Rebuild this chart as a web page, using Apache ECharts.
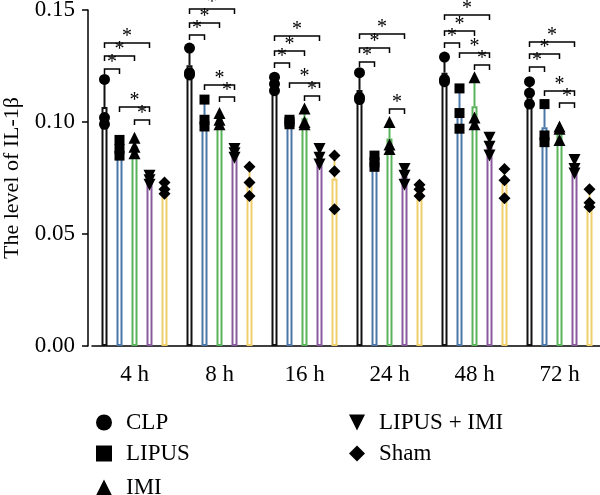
<!DOCTYPE html>
<html>
<head>
<meta charset="utf-8">
<script src="https://cdn.jsdelivr.net/npm/echarts@6/dist/echarts.min.js"></script>
<style>html,body{margin:0;padding:0;background:#fff;}#c{width:600px;height:495px;}</style>
</head>
<body>
<div id="c"></div>
<script>
// ---- data ----
var categories = ['4 h', '8 h', '16 h', '24 h', '48 h', '72 h'];
var groupNames = ['CLP', 'LIPUS', 'IMI', 'LIPUS + IMI', 'Sham'];
// individual points per time (3 animals each)
var clpPts = [[0.119,0.102,0.099],[0.133,0.122,0.121],[0.120,0.117,0.114],[0.122,0.111,0.110],[0.129,0.119,0.118],[0.118,0.113,0.108]];
var lipusPts = [[0.092,0.088,0.085],[0.110,0.101,0.098],[0.101,0.100,0.099],[0.085,0.082,0.080],[0.115,0.104,0.097],[0.108,0.094,0.091]];
var imiPts = [[0.093,0.089,0.086],[0.104,0.101,0.099],[0.106,0.100,0.099],[0.100,0.090,0.088],[0.120,0.102,0.099],[0.098,0.097,0.092]];
var lipusImiPts = [[0.076,0.074,0.072],[0.088,0.086,0.084],[0.088,0.084,0.081],[0.079,0.076,0.072],[0.093,0.089,0.085],[0.083,0.079,0.077]];
var shamPts = [[0.073,0.070,0.068],[0.080,0.073,0.067],[0.085,0.078,0.061],[0.072,0.070,0.067],[0.079,0.074,0.066],[0.070,0.064,0.062]];
// significance brackets: [category, level, fromGroup, toGroup]
var brackets = [
  [0,0.1237,0,1],[0,0.1295,0,2],[0,0.1353,0,3],[0,0.1067,1,3],[0,0.1009,2,3],
  [1,0.1388,0,1],[1,0.1442,0,2],[1,0.1504,0,3],[1,0.1165,1,3],[1,0.1112,2,3],
  [2,0.1263,0,1],[2,0.1317,0,2],[2,0.1384,0,3],[2,0.1174,1,3],[2,0.1116,2,3],
  [3,0.1268,0,1],[3,0.1330,0,2],[3,0.1393,0,3],[3,0.1058,2,3],
  [4,0.1353,0,1],[4,0.1406,0,2],[4,0.1478,0,3],[4,0.1308,1,3],[4,0.1254,2,3],
  [5,0.1246,0,1],[5,0.1304,0,2],[5,0.1357,0,3],[5,0.1138,1,3],[5,0.1085,2,3]
];

// ---- styling ----
var colors = ['#111111', '#4a77a8', '#58b35a', '#8a5a9e', '#f0cf6a'];
var symbols = ['circle', 'rect', 'triangle', 'path://M0,0L10,0L5,10Z', 'diamond'];
var symSizes = [11, 10, 12, 12, 12];
var FONT = 'Liberation Serif';
var BAR_W = 6, SPACING = 15;

var allPts = [clpPts, lipusPts, imiPts, lipusImiPts, shamPts];
function mean(a){ var s=0; a.forEach(function(v){s+=v;}); return s/a.length; }
function sd(a){ var m=mean(a), s=0; a.forEach(function(v){s+=(v-m)*(v-m);}); return Math.sqrt(s/(a.length-1)); }

var series = [];
allPts.forEach(function(pts, gi){
  series.push({
    name: groupNames[gi], type: 'bar', barWidth: BAR_W, barGap: '150%',
    data: pts.map(mean), z: 2,
    itemStyle: { color: '#fff', borderColor: colors[gi], borderWidth: 2 },
    emphasis: { disabled: true }, animation: false
  });
});
// error bars (mean -> mean + SD)
allPts.forEach(function(pts, gi){
  series.push({
    type: 'custom', z: 3, animation: false,
    data: pts.map(function(p, ci){ return [ci, mean(p), sd(p)]; }),
    renderItem: function(params, api){
      var c = api.value(0), m = api.value(1), s = api.value(2);
      var p1 = api.coord([c, m]), p2 = api.coord([c, m + s]);
      var dx = (gi - 2) * SPACING;
      return { type: 'line', shape: { x1: p1[0]+dx, y1: p1[1], x2: p2[0]+dx, y2: p2[1] },
               style: { stroke: colors[gi], lineWidth: 2 } };
    }
  });
});
// individual points
allPts.forEach(function(pts, gi){
  var d = [];
  pts.forEach(function(p, ci){ p.forEach(function(v){ d.push([ci, v]); }); });
  series.push({
    type: 'scatter', z: 4, animation: false, data: d,
    symbol: symbols[gi], symbolSize: symSizes[gi],
    symbolOffset: [(gi - 2) * SPACING, 0],
    itemStyle: { color: '#000', opacity: 1 },
    emphasis: { disabled: true }
  });
});
// significance brackets
series.push({
  type: 'custom', z: 5, animation: false, data: brackets,
  renderItem: function(params, api){
    var c = api.value(0), lv = api.value(1), f = api.value(2), t = api.value(3);
    var p = api.coord([c, lv]);
    var x1 = p[0] + (f - 2) * SPACING, x2 = p[0] + (t - 2) * SPACING, y = p[1];
    var st = { stroke: '#000', lineWidth: 1.5, fill: null };
    return { type: 'group', children: [
      { type: 'polyline', shape: { points: [[x1, y+5],[x1, y],[x2, y],[x2, y+5]] }, style: st },
      { type: 'text', style: { text: '*', x: (x1+x2)/2, y: y + 4, align: 'center', verticalAlign: 'bottom',
        font: '20px ' + FONT, fill: '#000' } }
    ]};
  }
});

// legend: one component per entry (two columns)
var legendPos = [[96, 411], [96, 442], [96, 476], [349, 411], [349, 442]];
var legends = groupNames.map(function(n, i){
  return {
    orient: 'vertical', left: legendPos[i][0], top: legendPos[i][1],
    itemWidth: 16, itemHeight: 16, selectedMode: false, padding: 0,
    textStyle: { color: '#000', fontFamily: FONT, fontSize: 23, lineHeight: 22, padding: [0, 0, 0, 9] },
    data: [{ name: n, icon: symbols[i], itemStyle: { color: '#000', borderWidth: 0 } }]
  };
});

var option = {
  backgroundColor: '#fff',
  animation: false,
  grid: { left: 92, right: -2, top: 10, bottom: 149, containLabel: false, outerBoundsMode: 'none' },
  xAxis: {
    type: 'category', data: categories,
    axisLine: { lineStyle: { color: '#000', width: 1.5 } },
    axisTick: { alignWithLabel: true, length: 8, lineStyle: { color: '#000', width: 1.5 } },
    axisLabel: { color: '#000', fontFamily: FONT, fontSize: 23, margin: 17 }
  },
  yAxis: {
    type: 'value', min: 0, max: 0.15, interval: 0.05, offset: 4,
    name: 'The level of IL-1β', nameLocation: 'middle', nameRotate: 90, nameGap: 65,
    nameTextStyle: { color: '#000', fontFamily: FONT, fontSize: 22 },
    axisLine: { show: true, lineStyle: { color: '#000', width: 1.5 } },
    axisTick: { show: true, length: 6, lineStyle: { color: '#000', width: 1.5 } },
    splitLine: { show: false },
    axisLabel: { color: '#000', fontFamily: FONT, fontSize: 23, margin: 13,
      formatter: function(v){ return v.toFixed(2); } }
  },
  legend: legends,
  series: series
};
var chart = echarts.init(document.getElementById('c'), null, { renderer: 'canvas' });
chart.setOption(option);
</script>
</body>
</html>
